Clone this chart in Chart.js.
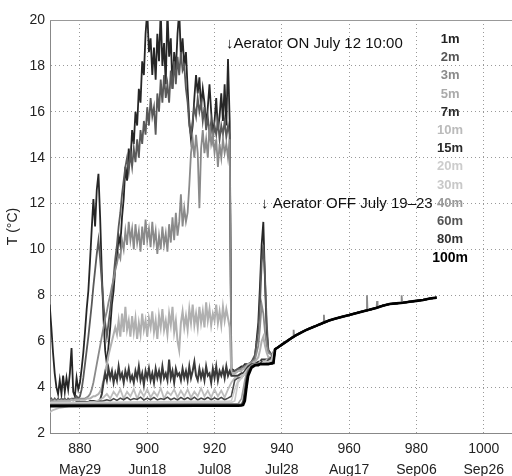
<!DOCTYPE html>
<html>
<head>
<meta charset="utf-8">
<script src="https://cdn.jsdelivr.net/npm/chart.js@4/dist/chart.umd.min.js"></script>
<style>
  body { margin: 0; background: #fff; }
  canvas { display: block; }
</style>
</head>
<body>
<canvas id="chart" width="512" height="476"></canvas>
<script>
// sensor depths and colours
const depths = ['1m', '2m', '3m', '5m', '7m', '10m', '15m', '20m', '30m', '40m', '60m', '80m', '100m'];
const lineColors = ['#262626', '#595959', '#8a8a8a', '#b0b0b0', '#3a3a3a', '#bdbdbd', '#4a4a4a', '#cccccc', '#c8c8c8', '#9a9a9a', '#5a5a5a', '#333333', '#000000'];
const legendColors = ['#222', '#555', '#8a8a8a', '#aaa', '#2a2a2a', '#bbb', '#2a2a2a', '#ccc', '#c8c8c8', '#999', '#555', '#333', '#000'];

// x ticks (day number + date)
const xTickValues = [880, 900, 920, 940, 960, 980, 1000];
const xTickDates = ['May29', 'Jun18', 'Jul08', 'Jul28', 'Aug17', 'Sep06', 'Sep26'];

// before aeration, half-day readings
const dayHalf = [
  871, 871.5, 872, 872.5, 873, 873.5, 874, 874.5, 875, 875.5,
  876, 876.5, 877, 877.5, 878, 878.5, 879, 879.5, 880, 880.5,
  881, 881.5, 882, 882.5, 883, 883.5, 884, 884.5, 885, 885.5,
  886, 886.5, 887, 887.5, 888, 888.5, 889, 889.5, 890, 890.5,
  891, 891.5, 892, 892.5, 893, 893.5, 894, 894.5, 895, 895.5,
  896, 896.5, 897, 897.5, 898, 898.5, 899, 899.5, 900, 900.5,
  901, 901.5, 902, 902.5, 903, 903.5, 904, 904.5, 905, 905.5,
  906, 906.5, 907, 907.5, 908, 908.5, 909, 909.5, 910, 910.5,
  911, 911.5, 912, 912.5, 913, 913.5, 914, 914.5, 915, 915.5,
  916, 916.5, 917, 917.5, 918, 918.5, 919, 919.5, 920, 920.5,
  921, 921.5, 922, 922.5, 923, 923.5, 924, 924.5
];
const temp1m = [
  7.6, 6.6, 5.5, 4.6, 4.0, 3.7, 4.3, 3.7, 4.5, 3.8,
  4.4, 3.9, 4.6, 5.7, 3.8, 3.6, 4.4, 3.9, 4.2, 4.8,
  5.5, 6.4, 7.4, 8.2, 9.5, 10.9, 12.2, 11.0, 12.6, 13.3,
  11.4, 9.0, 7.0, 5.6, 5.0, 5.8, 6.6, 7.6, 8.2, 9.2,
  9.6, 10.6, 10.2, 11.4, 12.2, 13.6, 13.0, 14.4, 13.8, 15.2,
  14.6, 16.0, 15.4, 17.0, 16.4, 18.2, 17.6, 19.4, 20.4, 18.6,
  19.2, 17.6, 18.8, 17.4, 19.4, 18.2, 20.4, 18.0, 19.0, 17.2,
  20.4, 18.4, 19.2, 17.0, 18.6, 17.8, 19.4, 20.4, 18.4, 19.2,
  18.0, 18.6, 17.0, 15.6, 14.8, 15.4, 16.6, 17.6, 16.8, 17.5,
  16.2, 17.0, 16.4, 15.4, 16.2, 17.2, 16.0, 15.0, 15.6, 16.6,
  15.2, 15.8, 16.8, 15.6, 17.2, 15.4, 18.3, 15.6
];
const temp2m = [
  3.4, 3.5, 3.4, 3.5, 3.4, 3.5, 3.4, 3.5, 3.45, 3.5,
  3.4, 3.5, 3.45, 3.5, 3.5, 3.5, 3.6, 3.5, 3.6, 3.9,
  4.4, 5.0, 5.6, 6.2, 6.9, 7.6, 8.4, 9.1, 9.8, 10.4,
  9.6, 8.6, 7.6, 6.8, 6.2, 6.8, 7.4, 8.1, 8.8, 9.6,
  10.2, 11.0, 11.6, 12.4, 13.0, 13.6, 14.0, 13.4, 14.2, 13.6,
  14.4, 13.8, 14.8, 14.0, 15.2, 14.6, 15.6, 15.0, 16.2, 15.4,
  16.6, 15.8, 16.2, 15.0, 16.8, 16.0, 17.4, 16.4, 17.6, 16.6,
  17.2, 16.4, 17.8, 17.0, 18.2, 17.2, 18.4, 17.6, 18.6, 17.8,
  18.0, 17.0, 16.4, 15.4, 15.0, 15.6, 16.2, 15.8, 16.6, 16.0,
  16.4, 15.6, 16.2, 15.2, 15.8, 15.0, 15.6, 14.8, 15.4, 15.0,
  15.6, 14.8, 15.4, 15.0, 15.6, 14.9, 15.4, 15.0
];
const temp3m = [
  3.4, 3.45, 3.4, 3.45, 3.4, 3.45, 3.4, 3.45, 3.4, 3.45,
  3.4, 3.45, 3.4, 3.45, 3.45, 3.45, 3.5, 3.45, 3.5, 3.5,
  3.5, 3.5, 3.55, 3.6, 3.7, 3.9, 4.2, 4.6, 5.0, 5.4,
  5.8, 6.2, 6.6, 7.0, 7.3, 7.7, 8.0, 8.4, 8.7, 9.1,
  9.4, 9.8, 9.6, 10.4, 10.0, 10.8, 10.2, 11.2, 10.4, 10.9,
  10.0, 11.1, 10.3, 10.8, 9.9, 11.0, 10.2, 11.3, 10.4, 10.9,
  10.1, 11.2, 10.3, 10.8, 9.8, 10.6, 10.0, 11.0, 10.2, 10.7,
  9.9, 11.1, 10.3, 11.4, 10.4, 11.6, 10.6, 11.2, 12.4, 11.0,
  11.8, 11.2, 11.6, 12.8, 14.2, 14.8, 14.0, 15.0, 14.2, 11.8,
  14.4, 15.2, 14.2, 14.8, 14.0, 15.4, 14.6, 15.0, 14.2, 14.8,
  13.6, 14.6, 14.0, 14.8, 14.2, 14.6, 14.0, 14.8
];
const temp5m = [
  3.3, 3.35, 3.35, 3.4, 3.35, 3.4, 3.4, 3.4, 3.4, 3.4,
  3.4, 3.4, 3.4, 3.45, 3.4, 3.45, 3.4, 3.45, 3.45, 3.45,
  3.45, 3.45, 3.5, 3.5, 3.5, 3.55, 3.6, 3.6, 3.65, 3.7,
  3.8, 4.0, 4.3, 4.7, 5.0, 5.4, 5.7, 6.0, 6.3, 6.6,
  6.3, 6.9, 6.2, 7.2, 6.4, 7.5, 6.5, 6.9, 6.2, 7.1,
  6.4, 7.0, 6.1, 6.8, 6.3, 7.2, 6.5, 6.9, 6.2, 7.0,
  6.6, 7.3, 6.4, 6.9, 6.1, 7.1, 6.6, 7.4, 6.5, 6.9,
  6.3, 7.2, 6.7, 7.5, 6.4, 6.9, 6.0, 5.6, 6.8, 7.3,
  6.6, 7.1, 6.5, 7.4, 6.8, 7.6, 6.7, 7.2, 6.6, 7.5,
  6.8, 7.3, 6.6, 7.7, 6.9, 7.4, 6.7, 7.2, 6.9, 7.6,
  6.8, 7.3, 6.7, 7.5, 6.9, 7.4, 7.0, 6.6
];
const temp7m = [
  3.3, 3.3, 3.3, 3.3, 3.3, 3.3, 3.3, 3.3, 3.3, 3.3,
  3.3, 3.3, 3.3, 3.3, 3.3, 3.3, 3.35, 3.35, 3.35, 3.35,
  3.35, 3.35, 3.35, 3.35, 3.4, 3.4, 3.4, 3.4, 3.4, 3.4,
  3.45, 3.7, 4.2, 4.6, 4.3, 4.8, 4.4, 4.7, 4.2, 4.6,
  4.3, 4.9, 4.4, 4.6, 4.2, 4.7, 4.4, 4.8, 4.3, 4.5,
  4.2, 4.7, 4.4, 4.9, 4.3, 4.6, 4.1, 4.7, 4.4, 4.8,
  4.3, 4.6, 4.2, 4.8, 4.4, 4.7, 4.3, 4.9, 4.4, 4.6,
  4.3, 5.2, 4.4, 4.7, 4.2, 4.8, 4.5, 4.6, 4.3, 4.8,
  4.4, 4.7, 4.3, 4.9, 4.4, 4.7, 5.1, 4.5, 4.3, 4.8,
  4.4, 4.7, 4.3, 4.9, 4.5, 4.6, 4.2, 4.8, 4.4, 4.9,
  4.3, 4.7, 4.5, 4.8, 4.4, 4.9, 4.5, 4.7
];

// before aeration, daily readings
const dayWhole = [
  871, 872, 873, 874, 875, 876, 877, 878, 879, 880,
  881, 882, 883, 884, 885, 886, 887, 888, 889, 890,
  891, 892, 893, 894, 895, 896, 897, 898, 899, 900,
  901, 902, 903, 904, 905, 906, 907, 908, 909, 910,
  911, 912, 913, 914, 915, 916, 917, 918, 919, 920,
  921, 922, 923, 924
];
const temp10m = [
  2.9, 3.0, 3.05, 3.1, 3.12, 3.15, 3.18, 3.2, 3.22, 3.25,
  3.3, 3.3, 3.35, 3.35, 3.4, 3.45, 3.55, 3.7, 3.5, 3.8,
  3.6, 3.9, 3.5, 3.8, 3.6, 3.9, 3.5, 3.85, 3.6, 3.9,
  3.55, 3.8, 3.6, 3.95, 3.5, 3.8, 3.65, 3.9, 3.55, 3.85,
  3.6, 3.9, 3.55, 3.8, 3.6, 3.95, 3.6, 3.85, 3.55, 3.9,
  3.6, 3.85, 3.55, 3.9
];
const temp15m = [
  3.3, 3.3, 3.3, 3.3, 3.3, 3.3, 3.3, 3.3, 3.3, 3.3,
  3.3, 3.3, 3.3, 3.32, 3.35, 3.38, 3.4, 3.45, 3.4, 3.5,
  3.42, 3.52, 3.45, 3.55, 3.44, 3.5, 3.46, 3.56, 3.44, 3.52,
  3.45, 3.55, 3.44, 3.5, 3.46, 3.56, 3.45, 3.52, 3.44, 3.55,
  3.46, 3.54, 3.45, 3.56, 3.44, 3.52, 3.46, 3.55, 3.45, 3.53,
  3.46, 3.55, 3.45, 3.52
];

// deep sensors, nearly flat before aeration
const dayFlat = [871, 885, 900, 915, 924];
const temp20m = [3.32, 3.34, 3.36, 3.38, 3.38];
const temp30m = [3.28, 3.3, 3.3, 3.32, 3.32];
const temp40m = [3.25, 3.26, 3.26, 3.27, 3.27];
const temp60m = [3.22, 3.23, 3.23, 3.24, 3.24];
const temp80m = [3.2, 3.2, 3.21, 3.21, 3.21];
const temp100m = [3.17, 3.18, 3.18, 3.19, 3.19];

// after aerator on / off
const dayLate = [925, 926, 927, 928, 928.5, 929, 929.5, 930, 931, 932, 933, 933.5, 934, 934.5, 935, 935.5, 936, 937, 937.5];
const late1m = [4.8, 4.7, 4.8, 4.9, 4.9, 5.0, 5.0, 5.0, 5.1, 5.3, 6.8, 8.4, 10.2, 11.2, 8.6, 6.4, 5.6, 5.4, 5.5];
const late2m = [4.7, 4.7, 4.8, 4.8, 4.9, 4.9, 5.0, 5.0, 5.1, 5.4, 6.4, 7.6, 9.4, 10.2, 8.8, 6.8, 5.6, 5.4, 5.5];
const late3m = [4.6, 4.6, 4.7, 4.8, 4.8, 4.9, 4.9, 5.0, 5.1, 5.2, 5.8, 6.6, 7.6, 7.2, 6.4, 5.8, 5.5, 5.4, 5.5];
const late5m = [4.6, 4.6, 4.7, 4.7, 4.8, 4.8, 4.9, 5.0, 5.0, 5.1, 5.3, 5.6, 6.0, 6.2, 5.8, 5.5, 5.3, 5.3, 5.5];
const late7m = [4.5, 4.5, 4.5, 4.6, 4.6, 4.7, 4.8, 4.9, 5.0, 5.0, 5.1, 5.1, 5.2, 5.2, 5.2, 5.2, 5.2, 5.3, 5.5];
const late10m = [4.2, 4.4, 4.4, 4.5, 4.5, 4.6, 4.7, 4.8, 4.9, 5.0, 5.0, 5.1, 5.1, 5.1, 5.1, 5.2, 5.2, 5.2, 5.5];
const late15m = [3.6, 4.3, 4.4, 4.4, 4.5, 4.6, 4.7, 4.8, 4.9, 5.0, 5.0, 5.0, 5.1, 5.1, 5.1, 5.1, 5.2, 5.2, 5.5];
const late20m = [3.4, 3.9, 4.3, 4.4, 4.5, 4.6, 4.7, 4.8, 4.9, 5.0, 5.0, 5.0, 5.0, 5.1, 5.1, 5.1, 5.1, 5.2, 5.5];
const late30m = [3.33, 3.4, 4.2, 4.4, 4.5, 4.6, 4.7, 4.8, 4.9, 5.0, 5.0, 5.0, 5.0, 5.0, 5.1, 5.1, 5.1, 5.1, 5.5];
const late40m = [3.27, 3.27, 3.28, 3.5, 3.9, 4.3, 4.6, 4.8, 4.95, 5.0, 5.0, 5.0, 5.0, 5.0, 5.0, 5.05, 5.05, 5.05, 5.05];
const late60m = [3.24, 3.24, 3.24, 3.26, 3.4, 3.9, 4.4, 4.7, 4.9, 5.0, 5.0, 5.0, 5.0, 5.0, 5.0, 5.0, 5.0, 5.0, 5.05];
const late80m = [3.21, 3.21, 3.21, 3.22, 3.3, 3.7, 4.3, 4.6, 4.9, 4.95, 5.0, 5.0, 5.0, 5.0, 5.0, 5.0, 5.0, 5.0, 5.05];
const late100m = [3.19, 3.19, 3.19, 3.2, 3.22, 3.4, 4.0, 4.5, 4.85, 4.95, 4.95, 5.0, 5.0, 5.0, 5.0, 5.0, 5.0, 5.05, 5.05];

// mixed column, all sensors together
const dayTail = [938, 939, 940, 941, 942, 943, 944, 945, 946, 947, 948, 949, 950, 952, 954, 956, 958, 960, 962, 964, 966, 968, 970, 972, 974, 976, 978, 980, 982, 984, 986];
const tempTail = [5.65, 5.75, 5.85, 5.95, 6.05, 6.15, 6.24, 6.32, 6.4, 6.47, 6.54, 6.6, 6.66, 6.78, 6.9, 6.99, 7.07, 7.14, 7.22, 7.3, 7.37, 7.45, 7.55, 7.62, 7.65, 7.68, 7.72, 7.76, 7.8, 7.86, 7.9];
// short warm spikes on the 3m record
const spikeDays = [943.35, 943.5, 943.65, 952.35, 952.5, 952.65, 965.15, 965.3, 965.45, 968.15, 968.3, 968.45, 975.45, 975.6, 975.75];
const spikeTemps = [6.19, 6.5, 6.21, 6.83, 7.15, 6.84, 7.37, 8.0, 7.38, 7.47, 7.75, 7.48, 7.67, 8.0, 7.68];

const earlyDays = [dayHalf, dayHalf, dayHalf, dayHalf, dayHalf, dayWhole, dayWhole, dayFlat, dayFlat, dayFlat, dayFlat, dayFlat, dayFlat];
const earlyTemps = [temp1m, temp2m, temp3m, temp5m, temp7m, temp10m, temp15m, temp20m, temp30m, temp40m, temp60m, temp80m, temp100m];
const lateTemps = [late1m, late2m, late3m, late5m, late7m, late10m, late15m, late20m, late30m, late40m, late60m, late80m, late100m];
const lineWidths = [1.8, 1.8, 1.8, 2, 2, 1.8, 1.6, 1.6, 1.6, 1.6, 1.6, 1.8, 2.6];

const FONT = '"Liberation Sans", Arial, sans-serif';

function pairs(xs, ys) {
    return xs.map((d, i) => ({ x: d, y: ys[i] }));
}

const datasets = depths.map((name, i) => {
    let tail = pairs(dayTail, tempTail);
    if (name === '3m') {
        tail = tail.concat(pairs(spikeDays, spikeTemps)).sort((a, b) => a.x - b.x);
    }
    return {
        label: name,
        data: pairs(earlyDays[i], earlyTemps[i]).concat(pairs(dayLate, lateTemps[i]), tail),
        borderColor: lineColors[i],
        borderWidth: lineWidths[i],
        borderJoinStyle: 'miter',
        pointRadius: 0,
        tension: 0,
        fill: false,
        order: depths.length - i,
    };
});

// frame top line, notes and the text legend
const overlay = {
    id: 'overlay',
    afterDraw(chart) {
        const { ctx, chartArea, scales } = chart;
        const x = scales.x, y = scales.y;
        ctx.save();
        ctx.strokeStyle = '#999';
        ctx.lineWidth = 1;
        ctx.beginPath();
        ctx.moveTo(chartArea.left, chartArea.top + 0.5);
        ctx.lineTo(chartArea.right, chartArea.top + 0.5);
        ctx.stroke();

        ctx.fillStyle = '#111';
        ctx.font = '15px ' + FONT;
        ctx.textAlign = 'left';
        ctx.textBaseline = 'middle';
        ctx.fillText('\u2193Aerator ON July 12 10:00', x.getPixelForValue(923.4), y.getPixelForValue(18.98));
        ctx.fillText('\u2193 Aerator OFF July 19\u201323', x.getPixelForValue(933.8), y.getPixelForValue(12.0));

        ctx.textAlign = 'center';
        const lx = x.getPixelForValue(990);
        const ly = y.getPixelForValue(19.15);
        depths.forEach((d, i) => {
            ctx.font = (d === '100m' ? 'bold 14px ' : 'bold 13px ') + FONT;
            ctx.fillStyle = legendColors[i];
            ctx.fillText(d, lx, ly + i * 18.2);
        });
        ctx.restore();
    }
};

const ctx = document.getElementById('chart').getContext('2d');
const myChart = new Chart(ctx, {
    type: 'line',
    data: { datasets: datasets },
    plugins: [overlay],
    options: {
        responsive: false,
        animation: false,
        devicePixelRatio: 1,
        layout: { padding: { top: 20, right: 0, left: 0, bottom: 0 } },
        plugins: {
            legend: { display: false },
            tooltip: { enabled: false },
        },
        scales: {
            x: {
                type: 'linear',
                min: 871.1,
                max: 1008.4,
                afterBuildTicks: (s) => { s.ticks = xTickValues.map(v => ({ value: v })); },
                afterFit: (s) => { s.height = 43; },
                ticks: {
                    autoSkip: false,
                    maxRotation: 0,
                    includeBounds: false,
                    padding: 6,
                    color: '#222',
                    font: { family: FONT, size: 14, lineHeight: 1.5 },
                    callback: (v) => [String(v), xTickDates[xTickValues.indexOf(v)]],
                },
                grid: { color: '#999', lineWidth: 1, drawTicks: false },
                border: { color: '#888', dash: [1, 3] },
            },
            y: {
                min: 2,
                max: 20,
                afterFit: (s) => { s.width = 50; },
                ticks: {
                    stepSize: 2,
                    padding: 5,
                    color: '#222',
                    font: { family: FONT, size: 14 },
                },
                grid: { color: '#999', lineWidth: 1, drawTicks: false },
                border: { color: '#888', dash: [1, 3] },
                title: {
                    display: true,
                    text: 'T (°C)',
                    color: '#222',
                    font: { family: FONT, size: 14 },
                    padding: { top: 5, bottom: 0 },
                },
            },
        },
    },
});
</script>
</body>
</html>
